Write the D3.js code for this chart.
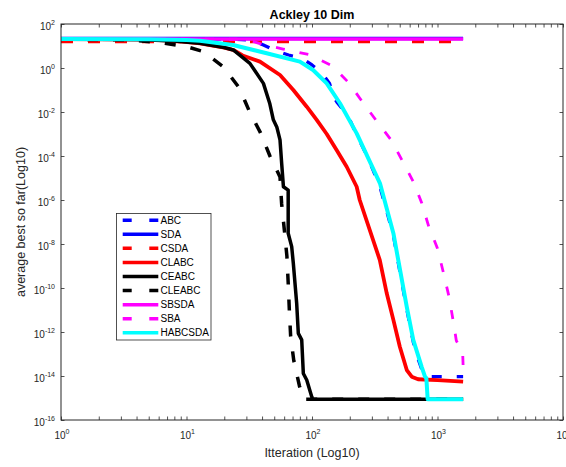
<!DOCTYPE html>
<html>
<head>
<meta charset="utf-8">
<script src="https://cdn.jsdelivr.net/npm/d3@7"></script>
<style>
html,body{margin:0;padding:0;background:#fff;}
svg{display:block;font-family:"Liberation Sans",Arial,Helvetica,sans-serif;}
</style>
</head>
<body>
<svg id="chart" width="566" height="467"></svg>
<script>
// ---- data (iterations, average best so far) ----
const iterABC = [1, 25, 33, 41, 52, 65, 83, 100, 120, 138, 148, 158, 195, 213, 280, 348, 445, 503, 569, 641, 700, 760, 800, 1600];
const valABC  = [20.6, 20.3, 18.6, 11.2, 5.9, 3.9, 2.8, 1.38, 0.59, 0.2, 0.05, 0.028, 6.3e-3, 2e-3, 8e-5, 4e-6, 2.5e-8, 5e-10, 1.1e-11, 3.5e-13, 6e-14, 1.6e-14, 9.3e-15, 9.3e-15];

const iterSDA = [1, 1600];
const valSDA  = [21.8, 21.8];

const iterCSDA = [1, 1600];
const valCSDA  = [16, 16];

const iterCLABC = [1, 5, 8, 12.8, 20, 23.6, 28, 38.5, 55.6, 71, 90.8, 109, 131, 157, 189, 227, 240, 347, 394, 445, 501, 569, 623, 700, 1000, 1600];
const valCLABC  = [20.6, 19.5, 17, 13.2, 8.5, 6.6, 3.7, 1.95, 0.48, 0.1, 0.0174, 4.4e-3, 1e-3, 1.86e-4, 3.24e-5, 4e-6, 1e-6, 1.86e-9, 5.75e-11, 3.55e-12, 2.14e-13, 1.86e-14, 9.3e-15, 7.1e-15, 6.5e-15, 5.5e-15];

const iterCEABC = [1, 4, 8, 12.8, 20, 23.6, 32, 41, 46, 49.2, 52.4, 55.6, 57.3, 59.2, 64.6, 64.6, 68.9, 71, 75.5, 77.8, 82.8, 85.3, 90.8, 99.5, 101, 1600];
const valCEABC  = [20.6, 19.5, 17, 13.2, 8.5, 6.6, 1.62, 0.2, 0.025, 4.4e-3, 2.1e-3, 5.4e-4, 4.7e-5, 4e-6, 2.8e-6, 3.1e-8, 7.6e-9, 1.3e-9, 2e-11, 8.7e-13, 4.4e-13, 1.3e-14, 6.6e-15, 1.15e-15, 8.88e-16, 8.88e-16];

const iterCLEABC = [1, 3.55, 6.31, 10, 13.6, 19.7, 26.3, 31.6, 38.9, 46.2, 55.6, 57.3, 60.3, 63.1, 64.6, 66.1, 67.6, 71.6, 79.4, 85.1, 1600];
const valCLEABC  = [20.6, 19.0, 14.1, 9.33, 5.62, 1.12, 0.126, 0.0112, 1.12e-3, 1e-4, 1.12e-5, 6.6e-7, 4e-8, 2.8e-9, 1.78e-10, 7.9e-12, 6.3e-13, 5e-14, 3.55e-15, 8.88e-16, 8.88e-16];

const iterSBSDA = [1, 1600];
const valSBSDA  = [20.6, 20.6];

const iterSBA = [1, 25, 33, 41, 58.9, 94.4, 146, 197, 254, 331, 427, 525, 646, 750, 851, 1000, 1114, 1236, 1334, 1413, 1585, 1600];
const valSBA  = [20.6, 20.3, 17, 11.5, 7.24, 4.12, 1.23, 0.209, 0.0272, 3.55e-3, 5.37e-4, 6.03e-5, 6.31e-6, 7.08e-7, 6.31e-8, 6.31e-9, 5.01e-10, 3.98e-11, 3.16e-12, 4e-13, 1.35e-13, 3e-14];

const iterHABCSDA = [1, 5, 10, 12.8, 23.5, 43.5, 80, 102, 131, 167, 227, 348, 445, 503, 569, 641, 748, 795, 815, 835, 1600];
const valHABCSDA  = [20.6, 20.2, 18.5, 17.4, 11.1, 4.7, 1.95, 0.81, 0.2, 0.025, 1.07e-3, 5.75e-6, 3.1e-8, 6.6e-10, 1.4e-11, 4.4e-13, 2.6e-14, 9.3e-15, 8e-15, 8.88e-16, 8.88e-16];

const seriesNames = ["ABC", "SDA", "CSDA", "CLABC", "CEABC", "CLEABC", "SBSDA", "SBA", "HABCSDA"];
const seriesIters = [iterABC, iterSDA, iterCSDA, iterCLABC, iterCEABC, iterCLEABC, iterSBSDA, iterSBA, iterHABCSDA];
const seriesVals  = [valABC, valSDA, valCSDA, valCLABC, valCEABC, valCLEABC, valSBSDA, valSBA, valHABCSDA];

const xTickExps = [0, 1, 2, 3, 4];
const yTickExps = [2, 0, -2, -4, -6, -8, -10, -12, -14, -16];

const titleText = "Ackley 10 Dim";
const xLabelText = "Itteration (Log10)";
const yLabelText = "average best so far(Log10)";

// ---- styles ----
const colors  = ["#0000ff", "#0000ff", "#ff0000", "#ff0000", "#000000", "#000000", "#ff00ff", "#ff00ff", "#00ffff"];
const dashes  = ["10,15", null, "12,15", null, null, "11,15", null, "9,15", null];
const widths  = [3.3, 3.5, 3.5, 3.8, 3.5, 3.5, 3.5, 2.8, 4];

const L = 61, R = 563, T = 24, B = 420;
const axisColor = "#262626";

const svg = d3.select("#chart");
svg.append("rect").attr("width", 566).attr("height", 467).attr("fill", "#fff");

const x = d3.scaleLog().domain([1, 1e4]).range([L, R]);
const y = d3.scaleLog().domain([1e-16, 1e2]).range([B, T]);

svg.append("clipPath").attr("id", "clip").append("rect")
  .attr("x", L).attr("y", T).attr("width", R - L).attr("height", B - T);

const line = d3.line().x(d => x(d[0])).y(d => y(d[1])).curve(d3.curveLinear);
const gLines = svg.append("g").attr("clip-path", "url(#clip)");
seriesNames.forEach((name, i) => {
  const pts = seriesIters[i].map((it, k) => [it, seriesVals[i][k]]);
  gLines.append("path")
    .attr("d", line(pts))
    .attr("fill", "none")
    .attr("stroke", colors[i])
    .attr("stroke-width", widths[i])
    .attr("stroke-linejoin", "round")
    .attr("stroke-dasharray", dashes[i]);
});

const xMajor = xTickExps.map(e => Math.pow(10, e));
const xMinor = [];
for (let e = 0; e < 4; e++) for (let m = 2; m <= 9; m++) xMinor.push(m * Math.pow(10, e));
const xAll = xMajor.concat(xMinor);
const yMajor = yTickExps.map(e => Math.pow(10, e));

function styleAxis(g) {
  g.select(".domain").remove();
  g.selectAll(".tick line").attr("stroke", axisColor).attr("stroke-width", 0.8);
  g.selectAll(".tick text").remove();
}
svg.append("g").attr("transform", `translate(0,${B})`)
  .call(d3.axisBottom(x).tickValues(xAll).tickSizeInner(-3.5).tickSizeOuter(0).tickFormat(""))
  .call(styleAxis);
svg.append("g").attr("transform", `translate(0,${T})`)
  .call(d3.axisTop(x).tickValues(xAll).tickSizeInner(-3.5).tickSizeOuter(0).tickFormat(""))
  .call(styleAxis);
svg.append("g").attr("transform", `translate(${L},0)`)
  .call(d3.axisLeft(y).tickValues(yMajor).tickSizeInner(-3.5).tickSizeOuter(0).tickFormat(""))
  .call(styleAxis);
svg.append("g").attr("transform", `translate(${R},0)`)
  .call(d3.axisRight(y).tickValues(yMajor).tickSizeInner(-3.5).tickSizeOuter(0).tickFormat(""))
  .call(styleAxis);

svg.append("rect").attr("x", L).attr("y", T).attr("width", R - L).attr("height", B - T)
  .attr("fill", "none").attr("stroke", axisColor).attr("stroke-width", 1);

xTickExps.forEach(e => {
  const t = svg.append("text").attr("x", x(Math.pow(10, e)) + 1).attr("y", B + 18.5)
    .attr("text-anchor", "middle").attr("fill", axisColor).attr("font-size", 10);
  t.append("tspan").text("10");
  t.append("tspan").attr("dy", -5).attr("font-size", 7).text(String(e));
});
yTickExps.forEach(e => {
  const t = svg.append("text").attr("x", L - 6).attr("y", y(Math.pow(10, e)) + 5.5)
    .attr("text-anchor", "end").attr("fill", axisColor).attr("font-size", 10);
  t.append("tspan").text("10");
  t.append("tspan").attr("dy", -5).attr("font-size", 7).text(String(e));
});

svg.append("text").attr("x", (L + R) / 2).attr("y", 18.5).attr("text-anchor", "middle")
  .attr("font-weight", "bold").attr("font-size", 12.5).attr("fill", "#000").text(titleText);
svg.append("text").attr("x", (L + R) / 2).attr("y", 457).attr("text-anchor", "middle")
  .attr("font-size", 12.5).attr("fill", axisColor).text(xLabelText);
svg.append("text").attr("transform", `translate(25,${(T + B) / 2}) rotate(-90)`)
  .attr("text-anchor", "middle").attr("font-size", 12.5).attr("fill", axisColor).text(yLabelText);

const lg = svg.append("g");
lg.append("rect").attr("x", 116.5).attr("y", 213.5).attr("width", 94.5).attr("height", 126.5)
  .attr("fill", "#fff").attr("stroke", axisColor).attr("stroke-width", 0.8);
seriesNames.forEach((name, i) => {
  const yy = 220.2 + i * 14.08;
  lg.append("line").attr("x1", 122.7).attr("x2", 158.3).attr("y1", yy).attr("y2", yy)
    .attr("stroke", colors[i]).attr("stroke-width", 3.5)
    .attr("stroke-dasharray", dashes[i] ? "9,17.6" : null);
  lg.append("text").attr("x", 160.5).attr("y", yy + 3.6).attr("font-size", 10)
    .attr("fill", "#000").text(name);
});
</script>
</body>
</html>
